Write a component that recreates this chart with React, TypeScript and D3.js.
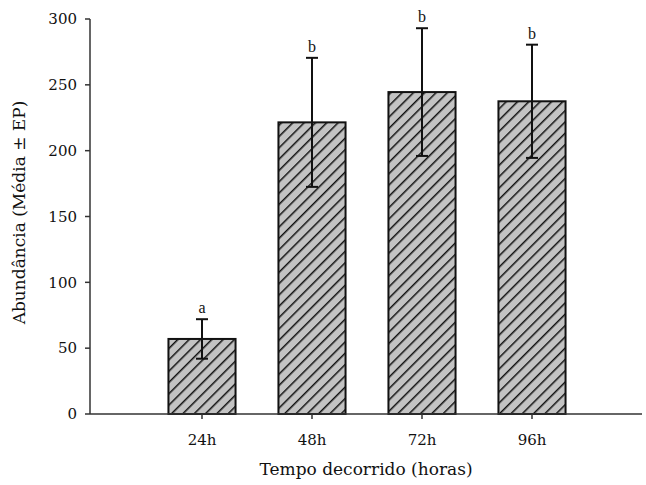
import { useMemo } from "react";
import * as d3 from "d3";

const categories = ["24h", "48h", "72h", "96h"];
const means = [57, 221.5, 244.5, 237.5];
const errors = [15, 49, 48.5, 43];
const letters = ["a", "b", "b", "b"];
const yTicks = [0, 50, 100, 150, 200, 250, 300];

const width = 646;
const height = 485;
const margin = { top: 19, right: 4, bottom: 71, left: 90 };
const font = "'DejaVu Serif', Georgia, serif";
const letterFont = "'Liberation Serif', 'Times New Roman', serif";

export default function App() {
  const innerWidth = width - margin.left - margin.right;
  const innerHeight = height - margin.top - margin.bottom;

  const x = useMemo(
    () =>
      d3
        .scaleBand()
        .domain(categories)
        .range([57, 497])
        .paddingInner(0.39)
        .paddingOuter(0.195),
    []
  );
  const y = useMemo(
    () => d3.scaleLinear().domain([0, 300]).range([innerHeight, 0]),
    [innerHeight]
  );

  return (
    <svg
      width={width}
      height={height}
      style={{ position: "absolute", left: 0, top: 0, background: "#fff" }}
    >
      <defs>
        <pattern
          id="hatch"
          patternUnits="userSpaceOnUse"
          width={8}
          height={8}
          patternTransform="rotate(45)"
        >
          <rect width={8} height={8} fill="#c3c3c3" />
          <line x1={0} y1={0} x2={0} y2={8} stroke="#111" strokeWidth={3} />
        </pattern>
      </defs>
      <g transform={`translate(${margin.left},${margin.top})`}>
        {/* bars */}
        {categories.map((c, i) => (
          <rect
            key={c}
            x={x(c) || 0}
            y={y(means[i])}
            width={x.bandwidth()}
            height={innerHeight - y(means[i])}
            fill="url(#hatch)"
            stroke="#111"
            strokeWidth={2}
          />
        ))}

        {/* error bars */}
        {categories.map((c, i) => {
          const cx = (x(c) || 0) + x.bandwidth() / 2;
          const top = y(means[i] + errors[i]);
          const bot = y(means[i] - errors[i]);
          return (
            <g key={c} stroke="#111" strokeWidth={2}>
              <line x1={cx} x2={cx} y1={top} y2={bot} />
              <line x1={cx - 6} x2={cx + 6} y1={top} y2={top} />
              <line x1={cx - 6} x2={cx + 6} y1={bot} y2={bot} />
            </g>
          );
        })}

        {/* letters */}
        {categories.map((c, i) => (
          <text
            key={c}
            x={(x(c) || 0) + x.bandwidth() / 2}
            y={y(means[i] + errors[i]) - 6}
            textAnchor="middle"
            fontFamily={letterFont}
            fontSize={16}
            fill="#111"
          >
            {letters[i]}
          </text>
        ))}

        {/* y axis */}
        <line x1={0} x2={0} y1={0} y2={innerHeight} stroke="#333" strokeWidth={1.5} />
        {yTicks.map((t) => (
          <g key={t} transform={`translate(0,${y(t)})`}>
            <line x1={-5} x2={0} stroke="#333" strokeWidth={1.5} />
            <text
              x={-13}
              dy="0.35em"
              textAnchor="end"
              fontFamily={font}
              fontSize={15}
              fill="#111"
            >
              {t}
            </text>
          </g>
        ))}

        {/* x axis */}
        <line x1={0} x2={innerWidth} y1={innerHeight} y2={innerHeight} stroke="#333" strokeWidth={1.5} />
        {categories.map((c) => {
          const cx = (x(c) || 0) + x.bandwidth() / 2;
          return (
            <g key={c} transform={`translate(${cx},${innerHeight})`}>
              <line y1={0} y2={5} stroke="#333" strokeWidth={1.5} />
              <text
                y={31}
                textAnchor="middle"
                fontFamily={font}
                fontSize={15}
                fill="#111"
              >
                {c}
              </text>
            </g>
          );
        })}

        <text
          x={innerWidth / 2}
          y={innerHeight + 61}
          textAnchor="middle"
          fontFamily={font}
          fontSize={17}
          fill="#111"
        >
          Tempo decorrido (horas)
        </text>
        <text
          transform={`translate(${-65},${innerHeight / 2 - 4}) rotate(-90)`}
          textAnchor="middle"
          fontFamily={font}
          fontSize={17}
          fill="#111"
        >
          Abundância (Média ± EP)
        </text>
      </g>
    </svg>
  );
}
